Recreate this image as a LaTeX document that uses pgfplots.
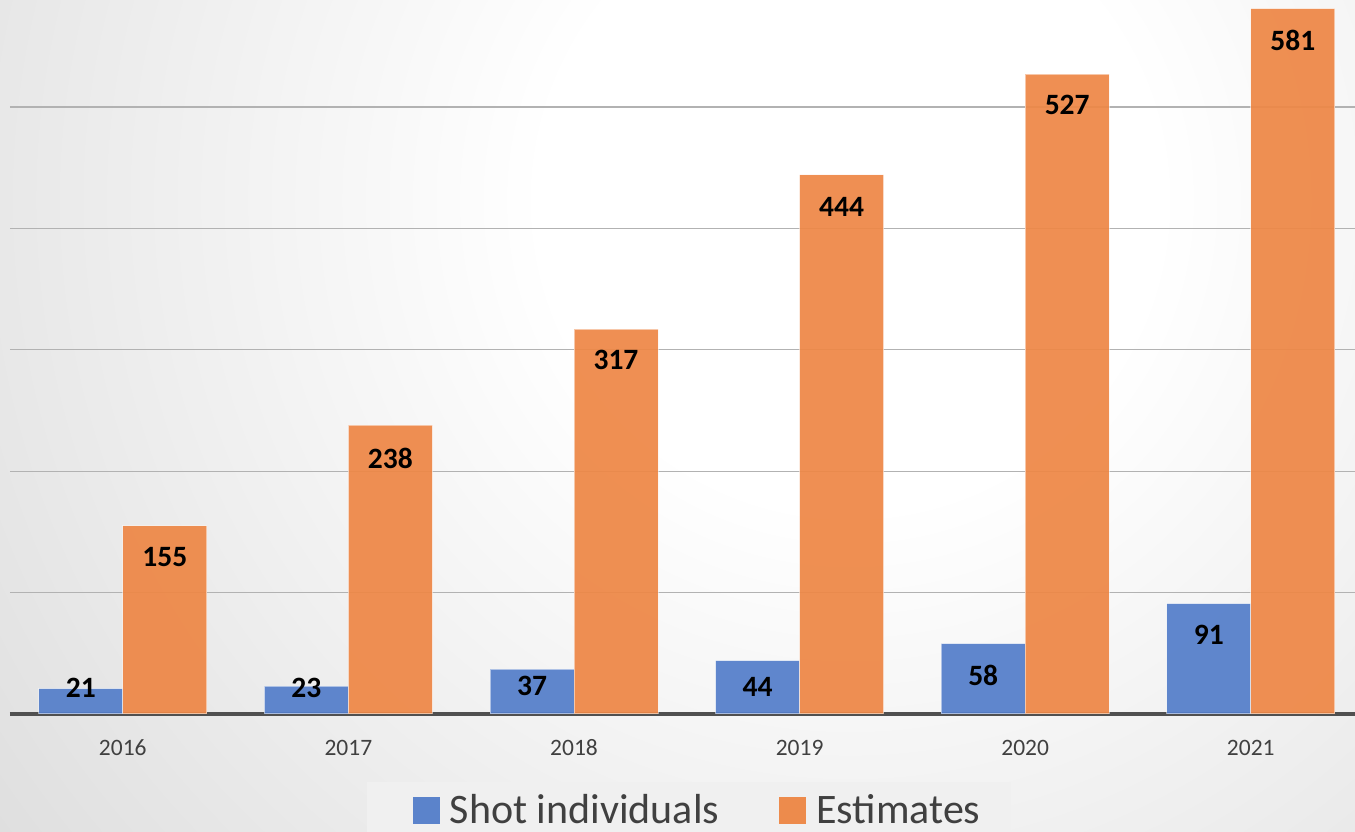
\documentclass[border=0pt]{standalone}
\usepackage{pgfplots}
\pgfplotsset{compat=1.18}
\usepackage{fontspec}
\setmainfont{Carlito}
\definecolor{barblue}{RGB}{84,126,202}
\definecolor{barorange}{RGB}{238,135,70}
\definecolor{legblue}{RGB}{91,131,203}
\definecolor{legorange}{RGB}{237,139,76}
\definecolor{txtgrey}{RGB}{64,64,64}
\definecolor{gridgrey}{RGB}{178,178,178}
\definecolor{zerogrey}{RGB}{80,80,80}
\definecolor{legbg}{RGB}{240,240,240}
\pgfdeclareradialshading{bgshade}{\pgfpoint{0bp}{0bp}}{%
  color(0bp)=(white); color(7bp)=(white); color(30bp)=(rgb,255:red,212;green,212;blue,212); color(48bp)=(rgb,255:red,194;green,194;blue,194); color(50bp)=(rgb,255:red,192;green,192;blue,192)}
\begin{document}
\begin{tikzpicture}[x=1pt,y=1pt]
\useasboundingbox (0,0) rectangle (1355,832);
\clip (0,0) rectangle (1355,832);
\shade[shading=bgshade] (850,632) circle (1100);
\fill[legbg] (367,-10) rectangle (1011,50);
\begin{axis}[
  at={(10pt,118pt)}, anchor=south west,
  scale only axis, width=1345pt, height=714pt,
  xmin=-0.5, xmax=5.462, ymin=0, ymax=588.1,
  axis line style={draw=none},
  major tick length=0pt,
  xtick={0,1,2,3,4,5},
  xticklabels={2016,2017,2018,2019,2020,2021},
  xticklabel style={font=\fontsize{23.5pt}{27pt}\selectfont, text=txtgrey, anchor=base, yshift=-41.5pt},
  ytick={100,200,300,400,500},
  yticklabels={},
  ymajorgrids,
  grid style={gridgrey, line width=1.3pt},
  extra y ticks={0},
  extra y tick labels={},
  extra y tick style={grid style={zerogrey, line width=3.6pt}},
  legend columns=2,
  legend style={at={(0.5105,-0.1345)}, anchor=center, draw=none, fill=none,
    font=\fontsize{42pt}{48pt}\selectfont, text=txtgrey, inner sep=0pt,
    nodes={inner sep=0pt},
    /tikz/every odd column/.style={column sep=10pt},
    /tikz/every even column/.style={column sep=60pt}},
]
\addplot[ybar, bar width=84pt, bar shift=-42pt, fill=barblue, fill opacity=0.93, draw=white, draw opacity=0.5, line width=1pt,
  legend image code/.code={\fill[legblue, opacity=1, fill opacity=1] (0pt,-13pt) rectangle (26pt,13pt);}]
  coordinates {(0,21) (1,23) (2,37) (3,44) (4,58) (5,91)};
\addlegendentry{Shot individuals}
\addplot[ybar, bar width=84pt, bar shift=42pt, fill=barorange, fill opacity=0.93, draw=white, draw opacity=0.5, line width=1pt,
  legend image code/.code={\fill[legorange, opacity=1, fill opacity=1] (0pt,-13pt) rectangle (26pt,13pt);}]
  coordinates {(0,155) (1,238) (2,317) (3,444) (4,527) (5,581)};
\addlegendentry{Estimates}
\addplot[draw=none, forget plot, nodes near coords, nodes near coords align=center, point meta=explicit symbolic,
  every node near coord/.append style={font=\bfseries\fontsize{29.5pt}{32pt}\selectfont, text=black, xshift=-42pt, inner sep=0pt}]
  table[meta=lab] {
x y lab
0 21.4 21
1 21.4 23
2 23.1 37
3 22.2 44
4 32.1 58
5 65.1 91
};
\addplot[draw=none, forget plot, nodes near coords, nodes near coords align=center, point meta=explicit symbolic,
  every node near coord/.append style={font=\bfseries\fontsize{29.5pt}{32pt}\selectfont, text=black, xshift=42pt, inner sep=0pt}]
  table[meta=lab] {
x y lab
0 129.3 155
1 210.9 238
2 291.6 317
3 417.6 444
4 501.6 527
5 554.4 581
};
\end{axis}
\end{tikzpicture}
\end{document}
